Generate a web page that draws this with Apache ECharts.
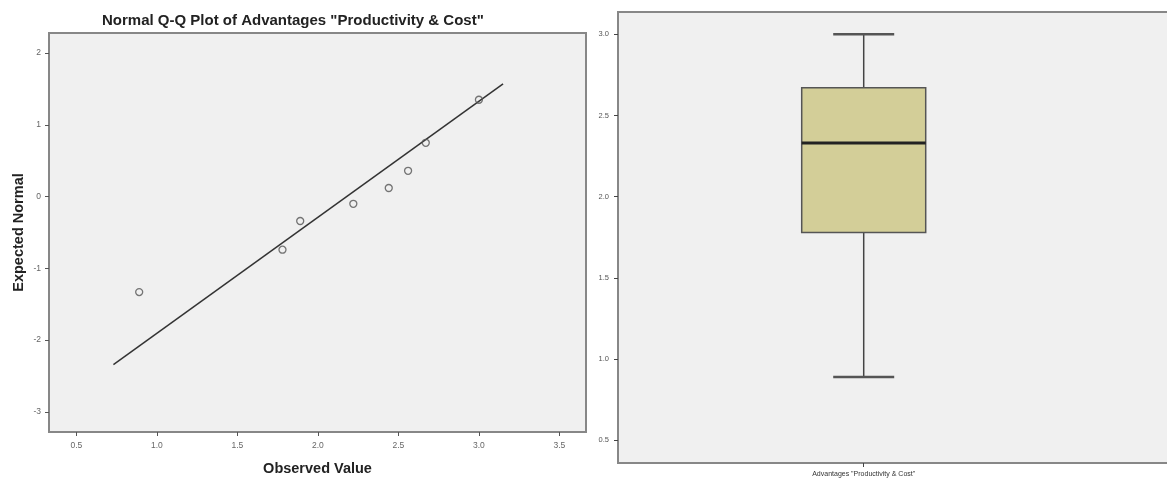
<!DOCTYPE html>
<html>
<head>
<meta charset="utf-8">
<script src="https://cdn.jsdelivr.net/npm/echarts@6/dist/echarts.min.js"></script>
<style>
html,body{margin:0;padding:0;background:#fff;overflow:hidden;}
#chart{width:1190px;height:481px;}
</style>
</head>
<body>
<div id="chart"></div>
<script>
// ---- data ----
const qqObserved = [0.89, 1.78, 1.89, 2.22, 2.44, 2.56, 2.67, 3.00];
const qqExpected = [-1.33, -0.74, -0.34, -0.10, 0.12, 0.36, 0.75, 1.35];
const fitLineX = [0.73, 3.15];
const fitLineY = [-2.34, 1.57];
const qqXTicks = [0.5, 1.0, 1.5, 2.0, 2.5, 3.0, 3.5];
const qqYTicks = [-3, -2, -1, 0, 1, 2];
const boxCategories = ['Advantages "Productivity & Cost"'];
const boxMin = [0.89];
const boxQ1 = [1.78];
const boxMedian = [2.33];
const boxQ3 = [2.67];
const boxMax = [3.00];
const boxYTicks = [0.5, 1.0, 1.5, 2.0, 2.5, 3.0];

const FONT = '"Liberation Sans", Arial, sans-serif';
const chart = echarts.init(document.getElementById('chart'), null, {renderer: 'canvas'});

const qqData = qqObserved.map((x, i) => [x, qqExpected[i]]);
const lineData = fitLineX.map((x, i) => [x, fitLineY[i]]);
const boxData = boxCategories.map((c, i) => [i, boxMin[i], boxQ1[i], boxMedian[i], boxQ3[i], boxMax[i]]);

const frame = {show: true, backgroundColor: '#f0f0f0', borderColor: '#878787', borderWidth: 2};

chart.setOption({
  animation: false,
  title: {
    text: 'Normal Q-Q Plot of Advantages "Productivity & Cost"',
    left: 102, top: 13, padding: 0,
    textStyle: {fontFamily: FONT, fontSize: 15, fontWeight: 'bold', color: '#222'}
  },
  grid: [
    Object.assign({left: 49, top: 33, width: 537, height: 399}, frame),
    Object.assign({left: 618, top: 12, right: 0, height: 451}, frame)
  ],
  xAxis: [
    {
      gridIndex: 0, type: 'value', min: 0.33, max: 3.665,
      name: 'Observed Value', nameLocation: 'middle', nameGap: 29,
      nameTextStyle: {fontFamily: FONT, fontSize: 14.5, fontWeight: 'bold', color: '#222'},
      axisLine: {show: false, onZero: false},
      axisTick: {show: true, length: 4, lineStyle: {color: '#555'}, customValues: qqXTicks},
      axisLabel: {customValues: qqXTicks, formatter: v => v.toFixed(1), fontFamily: FONT, fontSize: 8.5, color: '#666', margin: 9},
      splitLine: {show: false}
    },
    {
      gridIndex: 1, type: 'value', min: -1, max: 1.328,
      axisLine: {show: false, onZero: false},
      axisTick: {show: true, length: 4, lineStyle: {color: '#444'}, customValues: [0]},
      axisLabel: {customValues: [0], formatter: v => boxCategories[Math.round(v)] || '', fontFamily: FONT, fontSize: 7, color: '#333', margin: 8},
      splitLine: {show: false}
    }
  ],
  yAxis: [
    {
      gridIndex: 0, type: 'value', min: -3.28, max: 2.28,
      name: 'Expected Normal', nameLocation: 'middle', nameGap: 23,
      nameTextStyle: {fontFamily: FONT, fontSize: 14.5, fontWeight: 'bold', color: '#222'},
      axisLine: {show: false, onZero: false},
      axisTick: {show: true, length: 4, lineStyle: {color: '#555'}, customValues: qqYTicks},
      axisLabel: {customValues: qqYTicks, formatter: v => String(Math.round(v)), fontFamily: FONT, fontSize: 8.5, color: '#666', margin: 8},
      splitLine: {show: false}
    },
    {
      gridIndex: 1, type: 'value', min: 0.36, max: 3.137,
      axisLine: {show: false, onZero: false},
      axisTick: {show: true, length: 4, lineStyle: {color: '#444'}, customValues: boxYTicks},
      axisLabel: {customValues: boxYTicks, formatter: v => v.toFixed(1), fontFamily: FONT, fontSize: 7.5, color: '#555', margin: 9},
      splitLine: {show: false}
    }
  ],
  series: [
    {
      type: 'line', xAxisIndex: 0, yAxisIndex: 0, data: lineData,
      symbol: 'none', lineStyle: {color: '#333', width: 1.5}, z: 2, silent: true
    },
    {
      type: 'scatter', xAxisIndex: 0, yAxisIndex: 0, data: qqData,
      symbol: 'circle', symbolSize: 7,
      itemStyle: {color: 'rgba(0,0,0,0)', borderColor: '#555', borderWidth: 1.3}, z: 3
    },
    {
      type: 'custom', xAxisIndex: 1, yAxisIndex: 1, data: boxData,
      encode: {x: 0, y: [1, 2, 3, 4, 5]},
      renderItem: function (params, api) {
        const x = api.value(0);
        const lo = api.coord([x, api.value(1)]);
        const q1 = api.coord([x, api.value(2)]);
        const med = api.coord([x, api.value(3)]);
        const q3 = api.coord([x, api.value(4)]);
        const hi = api.coord([x, api.value(5)]);
        const bw = 124, cw = 61;
        const cx = lo[0];
        return {
          type: 'group',
          children: [
            {type: 'line', shape: {x1: cx, y1: lo[1], x2: cx, y2: q1[1]}, style: {stroke: '#444', lineWidth: 1.5}},
            {type: 'line', shape: {x1: cx, y1: q3[1], x2: cx, y2: hi[1]}, style: {stroke: '#444', lineWidth: 1.5}},
            {type: 'line', shape: {x1: cx - cw / 2, y1: lo[1], x2: cx + cw / 2, y2: lo[1]}, style: {stroke: '#555', lineWidth: 2.5}},
            {type: 'line', shape: {x1: cx - cw / 2, y1: hi[1], x2: cx + cw / 2, y2: hi[1]}, style: {stroke: '#555', lineWidth: 2.5}},
            {type: 'rect', shape: {x: cx - bw / 2, y: q3[1], width: bw, height: q1[1] - q3[1]}, style: {fill: '#d3ce98', stroke: '#555', lineWidth: 1.5}},
            {type: 'line', shape: {x1: cx - bw / 2, y1: med[1], x2: cx + bw / 2, y2: med[1]}, style: {stroke: '#222', lineWidth: 3}}
          ]
        };
      }
    }
  ]
});
</script>
</body>
</html>
